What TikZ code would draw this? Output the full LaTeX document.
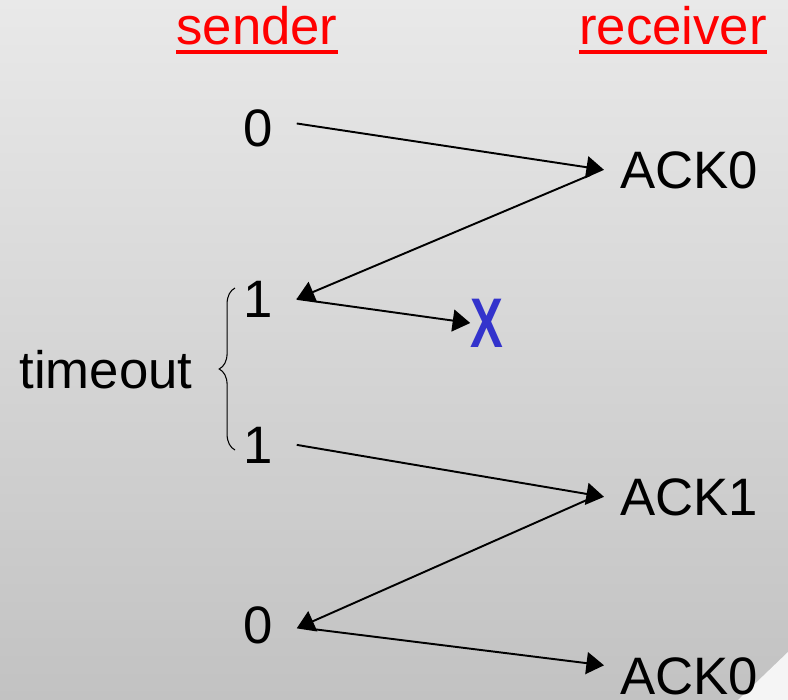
\documentclass[tikz,border=0pt]{standalone}
\usepackage{fontspec}
\setmainfont{Liberation Sans}
\usetikzlibrary{arrows.meta,positioning,decorations.pathreplacing}
\definecolor{bgtop}{HTML}{E9E9E9}
\definecolor{bgbot}{HTML}{C2C2C2}
\definecolor{lossblue}{HTML}{3333CC}
\definecolor{curl}{HTML}{F5F5F5}
\def \px {0.02cm}

\begin{document}
\begin{tikzpicture}[x=\px,y=-\px,
    every node/.style={font=\fontsize{30}{36}\selectfont,inner sep=0pt},
    side/.style={text=red,anchor=base},
    seq/.style={anchor=base,inner xsep=13.5pt},
    ack/.style={anchor=base west,inner xsep=9pt},
    msg/.style={-{Triangle[length=10pt,width=12.5pt]},line width=1.1pt}]
    \useasboundingbox (0,0) rectangle (788,700);
    % background
    \fill[top color=bgtop,bottom color=bgbot] (0,0) rectangle (788,700);
    \fill[curl] (738,700) -- (788,652) -- (788,700) -- cycle;
    % headings
    \node[side] (snd) at (257,44) {sender};
    \node[side] (rcv) at (673,44) {receiver};
    \draw[red,line width=2.3pt] ([yshift=-4.5pt]snd.base west) -- ([yshift=-4.5pt]snd.base east);
    \draw[red,line width=2.3pt] ([yshift=-4.5pt]rcv.base west) -- ([yshift=-4.5pt]rcv.base east);
    % sender side
    \node[seq] (s0) at (258,146) {0};
    \node[seq] (s1) at (258,317) {1};
    \node[seq] (s1r) at (258,463) {1};
    \node[seq] (s0b) at (258,643) {0};
    \node[anchor=base] (tmo) at (106,388) {timeout};
    \draw[decorate,decoration={brace,amplitude=9pt},line width=0.6pt] (235,450) -- (235,288);
    % receiver side
    \node[ack] (r0) at (604,188) {ACK0};
    \node[ack] (r1) at (604,515) {ACK1};
    \node[ack] (r0b) at (604,694) {ACK0};
    \node[text=lossblue,font=\bfseries\fontsize{40}{44}\selectfont] (lost) at (487,323) {\scalebox{0.7}[1]{X}};
    % messages
    \path[msg] ([yshift=2.5pt]s0.east) edge (r0.west);
    \path[msg] ([xshift=-8pt,yshift=-3pt]r0.west) edge (s1.east);
    \path[msg] (s1.east) edge (lost.west);
    \path[msg] (s1r.east) edge (r1.west);
    \path[msg] ([xshift=-8pt,yshift=-1pt]r1.west) edge ([yshift=-2pt]s0b.east);
    \path[msg] ([xshift=6pt,yshift=-2pt]s0b.east) edge ([yshift=6pt]r0b.west);
\end{tikzpicture}
\end{document}
